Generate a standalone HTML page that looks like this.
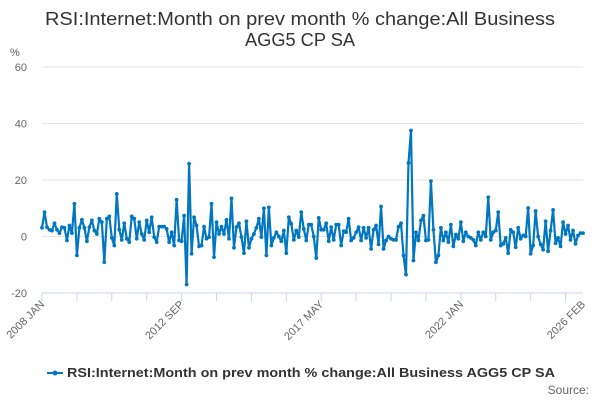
<!DOCTYPE html>
<html><head><meta charset="utf-8"><style>
body{margin:0;background:#fff;font-family:"Liberation Sans",sans-serif;}
svg text{font-family:"Liberation Sans",sans-serif;}
</style></head><body>
<svg id="chart" width="600" height="400">
<text x="300" y="25" text-anchor="middle" font-size="18" fill="#333" textLength="510" lengthAdjust="spacingAndGlyphs">RSI:Internet:Month on prev month % change:All Business</text>
<text x="300" y="46" text-anchor="middle" font-size="18" fill="#333" textLength="110" lengthAdjust="spacingAndGlyphs">AGG5 CP SA</text>
<text x="10" y="56" font-size="11" fill="#666">%</text>
<g id="grid"></g><g id="xaxis"></g>
<path id="line" fill="none" stroke="#0077c0" stroke-width="2.2" stroke-linejoin="round"/>
<g id="pts"></g>
<g>
<line x1="47" y1="373" x2="63" y2="373" stroke="#0077c0" stroke-width="2"/>
<circle cx="55" cy="373" r="2.5" fill="#0077c0"/>
<text x="67" y="377" font-size="13" font-weight="bold" fill="#333" textLength="488" lengthAdjust="spacingAndGlyphs">RSI:Internet:Month on prev month % change:All Business AGG5 CP SA</text>
</g>
<text x="589" y="394" text-anchor="end" font-size="12" fill="#666">Source:</text>
</svg>
<script>
const values=[3.1,8.6,3.3,2.4,2.1,4.7,2.4,1.2,3.3,3.1,-1.4,3.9,1.2,11.6,-6.7,3.1,5.9,3.1,-1.7,3.3,5.7,2.1,0.9,6.3,5.1,-9.1,6.3,7.1,-0.5,-3.2,15.1,2.4,-1.2,4.7,-0.8,-2,7.1,6.3,-0.8,5.1,0.9,-1.2,5.7,1.5,6.8,-0.2,-2,3.5,3.5,3.5,2.7,-2,1.5,-3.2,13,-1.4,-1.7,7.4,-17,25.8,-6.1,6.8,3.9,-3.5,-3.2,3.5,-0.8,-0.2,11.6,-7.3,5.1,0.9,3.5,0.9,5.9,-0.8,13.5,-4,3.3,4.7,-0.2,-5.9,5.4,-4,-0.8,0.9,3.1,6.3,-0.2,10,-6.7,10.3,-3.2,-0.5,1.5,0,-1.7,2.1,-5.9,6.8,4.5,-1.2,2.1,-0.2,8.6,2.7,-1.4,4.2,4.2,0,-7.6,6.6,2.4,2.4,4.7,-1.7,3.3,-1.2,4.2,4.2,-3.2,1.9,1.5,6.3,-1.4,-0.5,1.5,3.3,-1.4,3.1,-0.5,3.1,-4.4,2.4,3.9,-2.8,10.6,-4.4,-1.4,0,-0.8,-1.2,-1.2,3.5,4.7,-6.7,-13.5,26,37.5,-8.5,1.5,-1.4,5.7,7.4,-1.4,-1.2,19.6,2.4,-9.1,-6.7,3.1,-1.4,1.5,-2,4.2,-3.5,0.7,-0.8,5.1,-1.7,1.5,0,-0.5,-1.2,-3.2,1.5,-1.2,1.5,0,13.9,-1.2,1.5,2.1,8.6,-3.2,-2.6,-0.5,-5.9,2.4,1.5,-3.8,3.1,-0.8,0.4,0,10.1,-6.1,-3.2,9,0,-2.8,-4.7,5.4,-5.2,2.1,9.4,-2.4,-0.5,-3.5,5.1,0.9,3.9,-1.2,2.1,-2.6,0.4,1.2,1.2];
const yTicks=[60,40,20,0,-20];
const xLabels=["2008 JAN","2012 SEP","2017 MAY","2022 JAN","2026 FEB"];
const xLabelIdx=[0,56,112,168,217];
const NS="http://www.w3.org/2000/svg";
const x0=42,x1=583,yTop=67,yBot=293;
const xs=i=>x0+i*(x1-x0)/(values.length-1);
const ys=v=>yBot-(v+20)*(yBot-yTop)/80;
const grid=document.getElementById('grid');
yTicks.forEach(t=>{
 const l=document.createElementNS(NS,'line');
 l.setAttribute('x1',x0);l.setAttribute('x2',x1);l.setAttribute('y1',ys(t));l.setAttribute('y2',ys(t));
 l.setAttribute('stroke',t===-20?'#ccd6eb':'#e6e6e6');l.setAttribute('stroke-width',1);
 
 
 grid.appendChild(l);
 const tx=document.createElementNS(NS,'text');
 tx.setAttribute('x',27);tx.setAttribute('y',ys(t)+4);tx.setAttribute('text-anchor','end');
 tx.setAttribute('font-size','11');tx.setAttribute('fill','#666');tx.textContent=t;
 
 
 grid.appendChild(tx);
});
const xa=document.getElementById('xaxis');
for(let i=0;i<values.length;i+=14){
 const l=document.createElementNS(NS,'line');
 l.setAttribute('x1',xs(i));l.setAttribute('x2',xs(i));l.setAttribute('y1',yBot);l.setAttribute('y2',yBot+8);
 l.setAttribute('stroke','#ccd6eb');
 
 
 xa.appendChild(l);
}
xLabels.forEach((s,k)=>{
 const x=xs(xLabelIdx[k]);
 const tx=document.createElementNS(NS,'text');
 tx.setAttribute('x',x+3);tx.setAttribute('y',yBot+12);tx.setAttribute('text-anchor','end');
 tx.setAttribute('font-size','11');tx.setAttribute('fill','#666');
 tx.setAttribute('transform',`rotate(-45 ${x+3} ${yBot+12})`);tx.textContent=s;
 
 
 xa.appendChild(tx);
});
let d='';const pts=document.getElementById('pts');
values.forEach((v,i)=>{
 d+=(i?'L':'M')+xs(i).toFixed(2)+' '+ys(v).toFixed(2);
 const c=document.createElementNS(NS,'circle');
 c.setAttribute('cx',xs(i));c.setAttribute('cy',ys(v));c.setAttribute('r',1.9);c.setAttribute('fill','#0077c0');
 
 
 pts.appendChild(c);
});
document.getElementById('line').setAttribute('d',d);
</script>
</body></html>
